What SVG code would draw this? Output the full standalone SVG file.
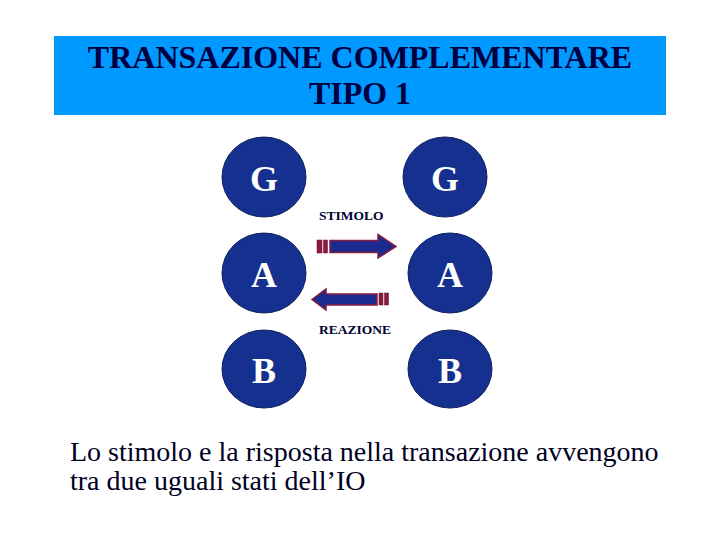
<svg xmlns="http://www.w3.org/2000/svg" width="720" height="540" viewBox="0 0 720 540">
<style>
.node ellipse{fill:#15308f;stroke:#0e1f5c;stroke-width:1}
.node text{font-family:"Liberation Serif",serif;font-weight:bold;font-size:36px;fill:#ffffff;text-anchor:middle}
.lbl{font-family:"Liberation Serif",serif;font-weight:bold;font-size:13.5px;fill:#000033}
.title{font-family:"Liberation Serif",serif;font-weight:bold;font-size:32px;fill:#000040;text-anchor:middle}
.body{font-family:"Liberation Serif",serif;font-size:28px;fill:#000022}
.arr{fill:#1a2a8f;stroke:#8a1a40;stroke-width:1.5}
.bar{fill:#8a1a40;stroke:#6a0f30;stroke-width:0.5}
</style>
<rect width="720" height="540" fill="#ffffff"/>
<g id="title">
<rect x="54" y="36" width="612" height="79" fill="#0099ff"/>
<text class="title" x="360" y="68">TRANSAZIONE COMPLEMENTARE</text>
<text class="title" x="360" y="104">TIPO 1</text>
</g>
<g id="G1" class="node"><ellipse cx="264" cy="177" rx="42" ry="40"/><text x="264" y="191">G</text></g>
<g id="G2" class="node"><ellipse cx="445" cy="177" rx="42" ry="40"/><text x="445" y="191">G</text></g>
<g id="A1" class="node"><ellipse cx="264" cy="273" rx="42" ry="40"/><text x="264" y="287">A</text></g>
<g id="A2" class="node"><ellipse cx="450" cy="273" rx="42" ry="40"/><text x="450" y="287">A</text></g>
<g id="B1" class="node"><ellipse cx="264" cy="369" rx="42" ry="39"/><text x="264" y="383">B</text></g>
<g id="B2" class="node"><ellipse cx="450" cy="369" rx="42" ry="39"/><text x="450" y="383">B</text></g>
<g id="connectors">
<g id="stimolo">
<rect class="bar" x="317" y="240" width="5" height="13"/>
<rect class="bar" x="323.5" y="240" width="4" height="13"/>
<polygon class="arr" points="330,240.5 378,240.5 378,234.5 396,246.5 378,258 378,252.5 330,252.5"/>
</g>
<g id="reazione">
<polygon class="arr" points="377,294 326,294 326,289 312,299.5 326,310 326,305 377,305"/>
<rect class="bar" x="379" y="293" width="4" height="12"/>
<rect class="bar" x="384.5" y="293" width="4" height="12"/>
</g>
</g>
<text class="lbl" x="319" y="220">STIMOLO</text>
<text class="lbl" x="319" y="334">REAZIONE</text>
<text class="body" x="70" y="461">Lo stimolo e la risposta nella transazione avvengono</text>
<text class="body" x="70" y="490">tra due uguali stati dell’IO</text>
</svg>
